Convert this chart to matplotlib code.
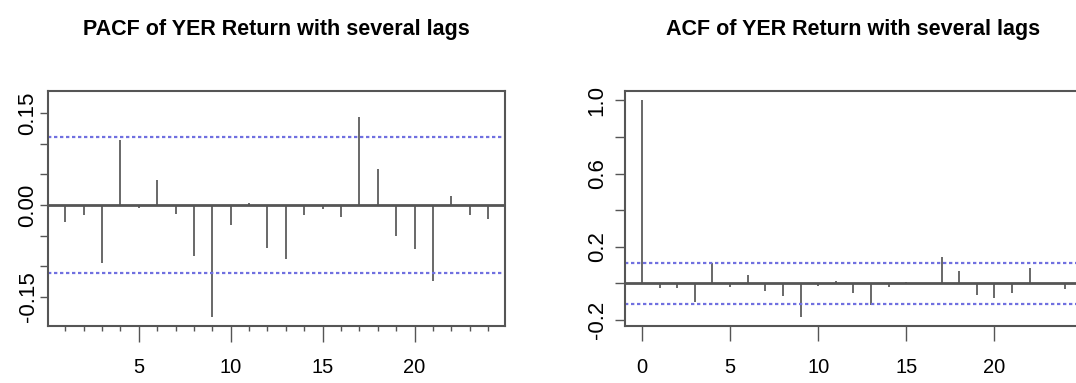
import matplotlib
matplotlib.use('Agg')
import matplotlib.pyplot as plt
from matplotlib import font_manager

# values
pacf_lags = list(range(1, 25))
pacf_vals = [-0.028, -0.016, -0.095, 0.106, -0.005, 0.040, -0.015, -0.083,
             -0.182, -0.033, 0.004, -0.071, -0.088, -0.016, -0.007, -0.019,
             0.144, 0.059, -0.050, -0.072, -0.124, 0.014, -0.016, -0.023]
acf_lags = list(range(0, 25))
acf_vals = [1.0, -0.024, -0.024, -0.100, 0.113, -0.018, 0.046, -0.040, -0.069,
            -0.186, -0.013, 0.013, -0.055, -0.118, -0.022, 0.005, -0.005,
            0.146, 0.067, -0.064, -0.082, -0.055, 0.086, -0.004, -0.031]
conf = 0.111

pacf_yticks = [-0.15, -0.10, -0.05, 0.00, 0.05, 0.10, 0.15]
pacf_ylabels = ['-0.15', '', '', '0.00', '', '', '0.15']
acf_yticks = [-0.2, 0.0, 0.2, 0.4, 0.6, 0.8, 1.0]
acf_ylabels = ['-0.2', '', '0.2', '', '0.6', '', '1.0']

# narrow font if the system has it, the picture is squeezed sideways
names = {f.name for f in font_manager.fontManager.ttflist}
if 'Liberation Sans Narrow' in names:
    narrow = 'Liberation Sans Narrow'
    title_size, xlab_size = 17.5, 16
else:
    narrow = 'Liberation Sans'
    title_size, xlab_size = 15.5, 14.5

GRAY = '#555555'
BAR = '#404040'
BLUE = '#7070e0'

fig = plt.figure(figsize=(10.76, 3.83), dpi=100)
ax1 = fig.add_axes([0.0449, 0.1496, 0.4244, 0.6128])
ax2 = fig.add_axes([0.5809, 0.1496, 0.4245, 0.6128])


def style(ax, title):
    for s in ax.spines.values():
        s.set_color(GRAY)
        s.set_linewidth(1.5)
    ax.set_title(title, fontsize=title_size, fontweight='bold', family=narrow, pad=40)
    ax.tick_params(axis='y', colors=GRAY, width=1.0, labelcolor='black')
    ax.tick_params(axis='x', which='both', colors=GRAY, width=1.0, labelcolor='black')
    for lab in ax.get_yticklabels():
        lab.set_rotation(90)
        lab.set_va('center')
        lab.set_family('Liberation Sans')
        lab.set_fontsize(16)
    for lab in ax.get_xticklabels():
        lab.set_family(narrow)
        lab.set_fontsize(xlab_size)


# PACF panel
ax1.vlines(pacf_lags, 0, pacf_vals, color=BAR, linewidth=1.1)
ax1.axhline(0, color=GRAY, linewidth=2.0)
ax1.axhline(conf, color=BLUE, linewidth=1.6, linestyle=(0, (1.5, 1.2)))
ax1.axhline(-conf, color=BLUE, linewidth=1.6, linestyle=(0, (1.5, 1.2)))
ax1.set_xlim(0.08, 24.92)
ax1.set_ylim(-0.197, 0.186)
ax1.set_yticks(pacf_yticks)
ax1.set_yticklabels(pacf_ylabels)
ax1.set_xticks([5, 10, 15, 20])
ax1.set_xticks([l for l in pacf_lags if l % 5 != 0], minor=True)
ax1.tick_params(axis='y', length=6, pad=1)
ax1.tick_params(axis='x', which='major', length=11.5, pad=12)
ax1.tick_params(axis='x', which='minor', length=3.5)
style(ax1, 'PACF of YER Return with several lags')

# ACF panel
ax2.vlines(acf_lags, 0, acf_vals, color=BAR, linewidth=1.1)
ax2.axhline(0, color=GRAY, linewidth=2.0)
ax2.axhline(conf, color=BLUE, linewidth=1.6, linestyle=(0, (1.5, 1.2)))
ax2.axhline(-conf, color=BLUE, linewidth=1.6, linestyle=(0, (1.5, 1.2)))
ax2.set_xlim(-0.96, 24.96)
ax2.set_ylim(-0.231, 1.051)
ax2.set_yticks(acf_yticks)
ax2.set_yticklabels(acf_ylabels)
ax2.set_xticks([0, 5, 10, 15, 20])
ax2.tick_params(axis='y', length=7.5, pad=5)
ax2.tick_params(axis='x', which='major', length=11, pad=12)
style(ax2, 'ACF of YER Return with several lags')

fig.savefig('out.png', dpi=100)
